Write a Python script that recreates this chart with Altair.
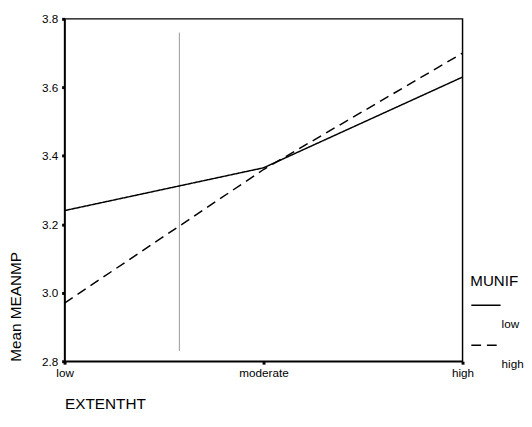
import altair as alt
import pandas as pd

categories = ["low", "moderate", "high"]
cat_pos = [0, 1, 2]
munif_low = [3.24, 3.365, 3.63]
munif_high = [2.97, 3.36, 3.70]
series_names = ["low", "high"]
y_ticks = [2.8, 3.0, 3.2, 3.4, 3.6, 3.8]
ref_x = [0.577]
ref_top = [3.76]
ref_bottom = [2.83]

rows = []
for name, vals in zip(series_names, [munif_low, munif_high]):
    for c, p, v in zip(categories, cat_pos, vals):
        rows.append({"MUNIF": name, "cat": c, "pos": p, "value": v})
df = pd.DataFrame(rows)
ref_df = pd.DataFrame({"x": ref_x, "y1": ref_top, "y2": ref_bottom})

FONT = "Liberation Sans"

x_enc = alt.X(
    "pos:Q",
    scale=alt.Scale(domain=[0, 2], nice=False, zero=False),
    axis=alt.Axis(
        values=cat_pos,
        labelExpr="datum.value == 0 ? 'low' : datum.value == 1 ? 'moderate' : 'high'",
        title="EXTENTHT",
        titleAnchor="start",
        titleAlign="left",
        titleFontSize=15.7,
        titleFontWeight="normal",
        titlePadding=18,
        labelFontSize=12,
        labelPadding=4,
        tickSize=3,
        tickWidth=3,
        labelFlush=False,
        grid=False,
    ),
)

legend_kw = dict(
    title="MUNIF",
    orient="none",
    legendX=416,
    legendY=262,
    padding=0,
    titleFontSize=15.5,
    titleFontWeight="normal",
    titlePadding=0,
    symbolType="stroke",
    symbolSize=900,
    symbolStrokeColor="black",
    symbolStrokeWidth=1.5,
    labelFontSize=12,
    labelBaseline="top",
    labelOffset=0,
    labelExpr="['', datum.label]",
)
try:
    legend = alt.Legend(rowPadding=-6, **legend_kw)
except Exception:
    legend = alt.Legend(rowPadding=0, **legend_kw)

lines = alt.Chart(df).mark_line(color="black", strokeWidth=1.5).encode(
    x=x_enc,
    y=alt.Y(
        "value:Q",
        scale=alt.Scale(domain=[2.8, 3.8], nice=False, zero=False),
        axis=alt.Axis(
            values=y_ticks,
            format=".1f",
            title="Mean MEANMP",
            titleAnchor="start",
            titleFontSize=15.7,
            titleFontWeight="normal",
            titlePadding=18,
            labelFontSize=12,
            labelPadding=4,
            tickSize=3,
            tickWidth=3,
            grid=False,
        ),
    ),
    strokeDash=alt.StrokeDash(
        "MUNIF:N",
        scale=alt.Scale(domain=series_names, range=[[1, 0], [10, 6]]),
        legend=legend,
    ),
    detail="MUNIF:N",
)

ref = alt.Chart(ref_df).mark_rule(color="#999999", strokeWidth=1).encode(
    x="x:Q", y="y1:Q", y2="y2:Q"
)

chart = (
    alt.layer(ref, lines)
    .properties(width=408, height=351, padding=0)
    .configure(font=FONT)
    .configure_view(stroke="black", strokeWidth=1.5)
    .configure_axis(
        domainColor="black",
        domainWidth=1.5,
        tickColor="black",
        labelColor="black",
        titleColor="black",
        labelFont=FONT,
        titleFont=FONT,
    )
    .configure_legend(labelFont=FONT, titleFont=FONT, labelColor="black", titleColor="black")
)

chart.save("out.html", embed_options={"renderer": "svg", "actions": False})
